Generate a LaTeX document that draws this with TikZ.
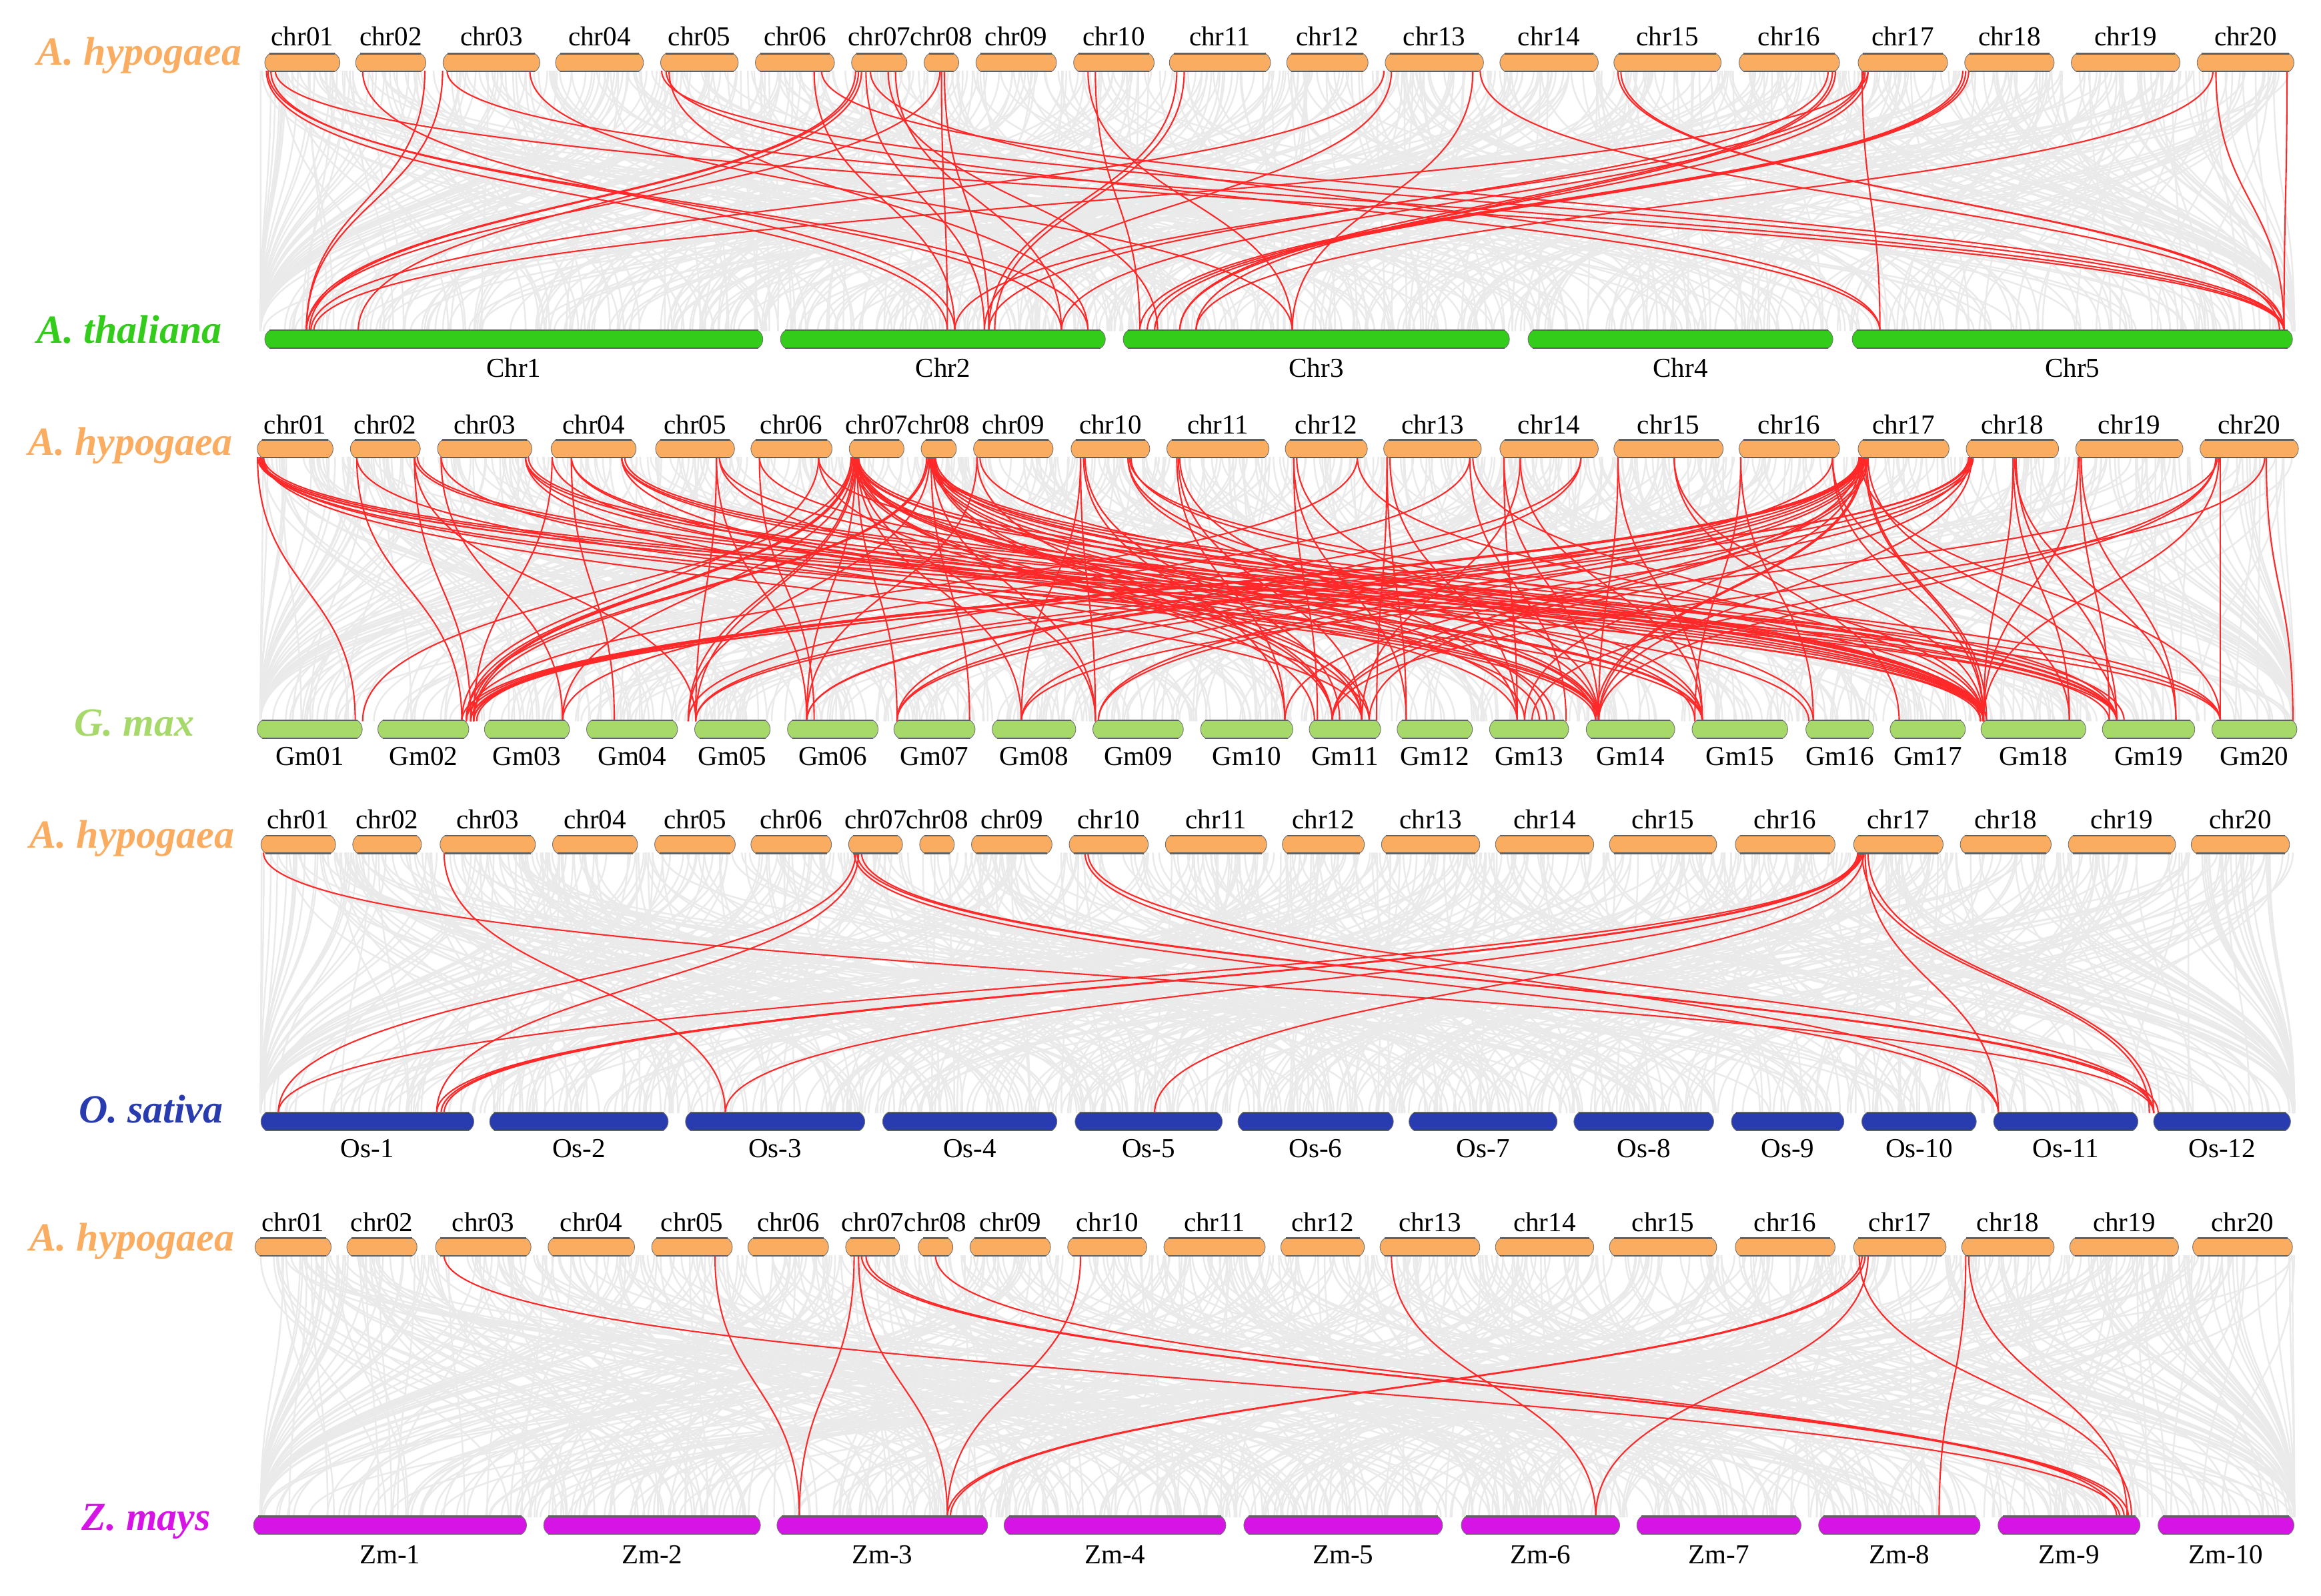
\documentclass[tikz,border=0pt]{standalone}
\usepackage{fontspec}
\setmainfont{Liberation Serif}
\definecolor{orng}{RGB}{250,172,96}
\definecolor{athc}{RGB}{51,204,26}
\definecolor{gmc}{RGB}{166,217,106}
\definecolor{osc}{RGB}{40,59,175}
\definecolor{zmc}{RGB}{215,20,230}
\definecolor{greyl}{RGB}{234,234,234}
\definecolor{redl}{RGB}{255,40,40}
\tikzset{
  gl/.style={draw=greyl, line width=1.1pt},
  rl/.style={draw=redl, line width=0.95pt},
  chrlbl/.style={font=\fontsize{18.5}{20}\selectfont, inner sep=0pt, anchor=base},
  sp/.style={font=\fontsize{27}{30}\selectfont\bfseries\itshape, inner sep=0pt, anchor=base west},
}
% #1 x1, #2 x2, #3 y centre, #4 colour, #5 name, #6 text, #7 label baseline offset
\newcommand{\chrom}[7]{%
  \path[fill=#4, draw=black!55, line width=0.4pt] ({#1+3.5},{#3-6}) -- ({#2-3.5},{#3-6})
     .. controls ({#2+0.8},{#3-3.2}) and ({#2+0.8},{#3+3.2}) .. ({#2-3.5},{#3+6})
     -- ({#1+3.5},{#3+6})
     .. controls ({#1-0.8},{#3+3.2}) and ({#1-0.8},{#3-3.2}) .. cycle;
  \draw[black!62, line width=1pt] ({#1+3.5},{#3-6}) -- ({#2-3.5},{#3-6})
     ({#1+3.5},{#3+6}) -- ({#2-3.5},{#3+6});
  \coordinate (#5) at ({(#1+#2)/2},#3);
  \node[chrlbl] (#5l) at ({(#1+#2)/2},{#3+#7}) {#6};
}
\newcommand{\greyset}[3]{%
  \pgfmathsetseed{#3}%
  \pgfmathsetmacro\ym{(#1+#2)/2}%
  \foreach \i in {1,...,440}{%
    \pgfmathsetmacro\ga{176+1374*rnd}%
    \pgfmathsetmacro\gb{max(176,min(1550,\ga+900*(rnd-0.5)))}%
    \draw[gl] (\ga,#1) .. controls (\ga,\ym) and (\gb,\ym) .. (\gb,#2);}%
  \foreach \i in {1,...,200}{%
    \pgfmathsetmacro\ga{176+1374*rnd}%
    \pgfmathsetmacro\gb{176+1374*rnd}%
    \draw[gl] (\ga,#1) .. controls (\ga,\ym) and (\gb,\ym) .. (\gb,#2);}%
}
\newcommand{\redset}[3]{%
  \pgfmathsetmacro\ym{(#1+#2)/2}%
  \foreach \ra/\rb in {#3}{%
    \draw[rl] (\ra,#1) .. controls (\ra,\ym) and (\rb,\ym) .. (\rb,#2);}%
}
\begin{document}
\begin{tikzpicture}[x=1pt,y=-1pt]
\useasboundingbox[fill=white] (0,0) rectangle (1568,1078);

% ---------- grey background links ----------
\greyset{47.8}{223.7}{11}
\greyset{308.7}{487.2}{23}
\greyset{576}{752}{37}
\greyset{848}{1025}{41}

% ---------- red links ----------
\redset{47.8}{223.7}{180/640, 181/735, 183/717, 186/1543, 245/645, 287/207, 299/207, 302/1543, 358/873, 447/1543, 450/1270, 452/735, 550/645, 555/1543, 578/207, 580/209, 582/242, 585/665, 588/1270, 600/782, 605/717, 635/207, 636/640, 638/668, 735/873, 740/770, 795/668, 800/672, 935/210, 940/665, 995/873, 1000/1543, 1093/1543, 1095/1540, 1235/668, 1238/797, 1240/808, 1258/1270, 1260/717, 1262/797, 1259/645, 1262/212, 1328/775, 1330/780, 1326/770, 1495/808, 1497/1543, 1545/1543}

\redset{308.7}{487.2}{174/240, 174/1338, 175/1340, 176/1430, 176/1150, 177/1078, 178/920, 178/1500,
241/312, 241/1080, 280/318, 280/470, 280/1340, 282/1425,
298/380, 298/1080, 355/1150, 355/1340, 357/1430, 355/925,
373/320, 373/1080, 386/415, 386/1150, 386/1222, 420/1340, 420/1430, 422/1500, 420/1025,
484/470, 484/545, 486/1340, 486/1040,
513/550, 513/1340, 553/1430, 553/920, 553/312,
575/245, 575/315, 576/318, 576/320, 577/380, 577/465, 578/470, 578/545, 579/606, 579/690, 580/740, 580/888, 576/900, 577/925, 578/1030, 579/1050, 580/1078, 576/1080, 577/1145, 578/1340, 579/1342, 580/1430,
626/315, 627/320, 628/465, 629/655, 630/740, 631/900, 632/920, 628/1045, 629/1080, 630/1150, 631/1225, 632/1338, 627/1340, 628/1435, 629/1500,
660/545, 660/900, 662/1338,
730/690, 730/740, 732/868, 733/905, 762/1080, 762/1150, 764/1340, 763/1430,
795/868, 796/920, 797/1025,
874/890, 874/950, 876/1080, 917/1340, 917/315,
937/930, 937/950, 939/1025, 993/1058, 993/380, 995/1340,
1016/1025, 1016/1080, 1027/1150, 1027/920, 1068/606, 1068/465,
1093/1080, 1093/1150, 1131/1283, 1131/1340,
1176/1145, 1176/1225, 1238/1340, 1238/1398, 1238/545,
1256/312, 1257/315, 1258/318, 1259/320, 1260/322, 1256/470, 1257/545, 1258/606, 1259/690, 1260/742, 1261/868, 1262/900, 1256/925, 1257/1030, 1258/1078, 1259/1080, 1260/1340, 1261/1342, 1262/1430, 1257/1500,
1330/318, 1331/320, 1332/470, 1333/606, 1330/742, 1331/900, 1332/1080, 1360/1340, 1360/1398, 1362/1430, 1361/1470,
1404/1340, 1405/1425, 1406/1470,
1497/1035, 1497/1080, 1498/690, 1499/1340, 1500/1500, 1531/1549, 1530/900}

\redset{576}{752}{178/1455, 300/490, 578/188, 580/295, 577/1350, 579/1455, 582/1458, 733/1350, 735/1455, 1255/295, 1256/298, 1257/300, 1258/188, 1259/780, 1260/1350, 1262/1455, 1258/1452, 1256/490}

\redset{848}{1025}{300/1432, 483/540, 577/540, 580/640, 582/1435, 585/1438, 632/1430, 730/640, 940/1078, 1258/640, 1260/642, 1262/1078, 1328/1310, 1330/1437, 1256/1440}

% ---------- chromosomes ----------
% panel 1
\foreach \a/\b/\t in {178.6/229.9/chr01, 240/288/chr02, 299/365/chr03, 375/435/chr04, 446/499/chr05, 510/564/chr06, 575/613/chr07, 624/648/chr08, 659/714/chr09, 725/780/chr10, 789.7/858.6/chr11, 869/924.5/chr12, 935.5/1002.5/chr13, 1013/1080/chr14, 1090/1163/chr15, 1174.5/1243/chr16, 1255/1316/chr17, 1327/1388/chr18, 1399/1473/chr19, 1484/1550/chr20}
  {\chrom{\a}{\b}{42.3}{orng}{p1\t}{\t}{-11.3}}
\foreach \a/\b/\t in {178.6/515.6/Chr1, 527/747/Chr2, 758.5/1020/Chr3, 1032/1238.5/Chr4, 1251/1549/Chr5}
  {\chrom{\a}{\b}{229.2}{athc}{p1\t}{\t}{25.4}}
% panel 2
\foreach \a/\b/\t in {173.5/225.3/chr01, 236.4/284.2/chr02, 295.3/359.6/chr03, 372/430/chr04, 442.6/496.5/chr05, 507/562.4/chr06, 573.4/611/chr07, 622/646.4/chr08, 657.4/711.7/chr09, 723.3/777/chr10, 788/857.6/chr11, 868/924/chr12, 934.5/1001/chr13, 1013/1080/chr14, 1090/1164.4/chr15, 1174.5/1243/chr16, 1255/1317/chr17, 1328/1391/chr18, 1402/1475/chr19, 1486/1553/chr20}
  {\chrom{\a}{\b}{303.2}{orng}{p2\t}{\t}{-10.2}}
\foreach \a/\b/\t in {173.5/245/Gm01, 255/317/Gm02, 327/385/Gm03, 396/458/Gm04, 469/520.6/Gm05, 531.7/593.5/Gm06, 603.6/659/Gm07, 670/727/Gm08, 738/799.7/Gm09, 810.8/873.7/Gm10, 884.2/933/Gm11, 943.6/995/Gm12, 1006/1060/Gm13, 1071.3/1131.7/Gm14, 1142.8/1208/Gm15, 1219.7/1266/Gm16, 1276.6/1328/Gm17, 1338/1409.4/Gm18, 1420/1483/Gm19, 1494/1552/Gm20}
  {\chrom{\a}{\b}{492.7}{gmc}{p2\t}{\t}{24.3}}
% panel 3
\foreach \a/\b/\t in {176/227/chr01, 238/285/chr02, 297/362/chr03, 373/431/chr04, 442/497/chr05, 507/562/chr06, 573/610/chr07, 621/645/chr08, 656/711/chr09, 722/776/chr10, 787/856/chr11, 866/922/chr12, 933/1000/chr13, 1010/1077/chr14, 1087/1160/chr15, 1172/1240/chr16, 1252/1313/chr17, 1324/1386/chr18, 1397/1470/chr19, 1480/1547/chr20}
  {\chrom{\a}{\b}{570.5}{orng}{p3\t}{\t}{-10.7}}
\foreach \a/\b/\t in {176/320.4/Os-1, 330.5/451.7/Os-2, 462.8/584.5/Os-3, 596/714.3/Os-4, 726/826/Os-5, 836/941.6/Os-6, 951.6/1052.2/Os-7, 1063/1158/Os-8, 1169.4/1246/Os-9, 1257.5/1335.4/Os-10, 1346.5/1444.6/Os-11, 1454.6/1547.7/Os-12}
  {\chrom{\a}{\b}{757.7}{osc}{p3\t}{\t}{24.3}}
% panel 4
\foreach \a/\b/\t in {172/224/chr01, 234/282/chr02, 294/359/chr03, 370/429/chr04, 440/495/chr05, 505/560/chr06, 571/608/chr07, 620/644/chr08, 655/710/chr09, 721/775/chr10, 786/855/chr11, 865/922/chr12, 932/1000/chr13, 1010/1077/chr14, 1087/1160/chr15, 1172/1240/chr16, 1252/1315/chr17, 1325/1388/chr18, 1398/1472/chr19, 1481/1549/chr20}
  {\chrom{\a}{\b}{842.5}{orng}{p4\t}{\t}{-10.7}}
\foreach \a/\b/\t in {171/356/Zm-1, 367/514/Zm-2, 524.6/667.5/Zm-3, 678/828.4/Zm-4, 840/974.8/Zm-5, 986.9/1094.5/Zm-6, 1105.5/1217/Zm-7, 1228.3/1338/Zm-8, 1349.5/1446/Zm-9, 1457.6/1550/Zm-10}
  {\chrom{\a}{\b}{1030.4}{zmc}{p4\t}{\t}{26}}

% ---------- species labels ----------
\node[sp, text=orng] (sp1) at (25,44) {A. hypogaea};
\node[sp, text=athc] (sp2) at (25,232) {A. thaliana};
\node[sp, text=orng] (sp3) at (19,307.7) {A. hypogaea};
\node[sp, text=gmc] (sp4) at (50,497) {G. max};
\node[sp, text=orng] (sp5) at (20,573) {A. hypogaea};
\node[sp, text=osc] (sp6) at (53,758.5) {O. sativa};
\node[sp, text=orng] (sp7) at (20,845) {A. hypogaea};
\node[sp, text=zmc] (sp8) at (55,1034) {Z. mays};
\end{tikzpicture}
\end{document}
